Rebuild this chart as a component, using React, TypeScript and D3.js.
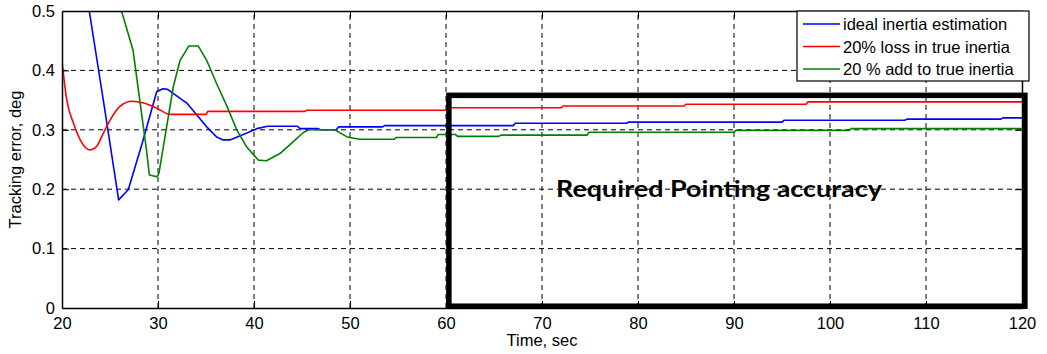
import { useEffect, useMemo, useRef } from 'react';
import * as d3 from 'd3';

// time (sec) / tracking error (deg)
const idealTime = [
    22.5, 22.84, 24.4, 25.9, 26.9, 28.4, 29.86, 30.5, 31.0, 33.0, 35.07, 36.1, 36.8, 37.5, 39.2,
    39.6, 40.3, 41.4, 44.5, 44.8, 46.7, 46.9, 48.6, 48.8, 53.4, 53.6, 67.0, 67.2, 78.8, 79.0,
    95.0, 95.2, 107.8, 108.0, 117.8, 118.0, 120,
];
const idealError = [
    0.53, 0.5, 0.34, 0.182, 0.199, 0.28, 0.364, 0.369, 0.368, 0.345, 0.305, 0.288, 0.283, 0.283,
    0.294, 0.297, 0.302, 0.306, 0.306, 0.302, 0.302, 0.3, 0.3, 0.305, 0.305, 0.307, 0.307, 0.311,
    0.311, 0.313, 0.313, 0.316, 0.316, 0.318, 0.318, 0.32, 0.32,
];
const lossTime = [
    20, 20.5, 21.2, 21.9, 22.9, 23.6, 24.3, 25, 26, 27.3, 28.5, 29.9, 31.25, 35.0, 35.2, 45.3,
    45.5, 60.0, 60.2, 72.0, 72.2, 84.8, 85.0, 97.5, 97.7, 120,
];
const lossError = [
    0.415, 0.35, 0.311, 0.283, 0.266, 0.272, 0.294, 0.316, 0.339, 0.348, 0.345, 0.336, 0.326,
    0.326, 0.331, 0.331, 0.333, 0.333, 0.337, 0.337, 0.34, 0.34, 0.343, 0.343, 0.347, 0.347,
];
const addTime = [
    26.0, 26.2, 27.4, 28.1, 28.8, 29.1, 29.9, 30.1, 30.9, 31.6, 32.3, 33.2, 34.2, 35.07, 36.1,
    37.2, 38.2, 39.2, 40.45, 41.3, 42.7, 44.1, 45.1, 45.7, 48.4, 49.7, 51.0, 54.6, 54.8, 59.0,
    59.2, 61.0, 61.2, 65.5, 65.7, 74.7, 74.9, 90.0, 90.2, 102.0, 102.2, 120,
];
const addError = [
    0.52, 0.5, 0.434, 0.35, 0.266, 0.224, 0.221, 0.227, 0.305, 0.373, 0.417, 0.441, 0.441, 0.417,
    0.378, 0.339, 0.3, 0.272, 0.249, 0.248, 0.26, 0.28, 0.295, 0.3, 0.3, 0.288, 0.284, 0.284,
    0.287, 0.287, 0.292, 0.292, 0.289, 0.289, 0.291, 0.291, 0.296, 0.296, 0.299, 0.299, 0.302,
    0.302,
];

const seriesNames = [
    'ideal inertia estimation',
    '20% loss in true inertia',
    '20 % add to true inertia',
];
const seriesColours = ['#0000ff', '#ff0000', '#008000'];
// the red trace is smooth, the other two have sharp turning points
const seriesCurves = [d3.curveLinear, d3.curveMonotoneX, d3.curveLinear];

const xTicks = [20, 30, 40, 50, 60, 70, 80, 90, 100, 110, 120];
const yTicks = [0, 0.1, 0.2, 0.3, 0.4, 0.5];

// required pointing accuracy region
const accuracyTime = [60.3, 120.3];
const accuracyBound = [0.003, 0.358];
const accuracyLabel = 'Required Pointing accuracy';

const width = 1047;
const height = 354;
const margin = { top: 11, right: 25, bottom: 46, left: 62 };
const font = '"Liberation Sans", Arial, sans-serif';

export default function App() {
    const xAxisEl = useRef<SVGGElement>(null);
    const yAxisEl = useRef<SVGGElement>(null);
    const topAxisEl = useRef<SVGGElement>(null);
    const rightAxisEl = useRef<SVGGElement>(null);

    const xScale = useMemo(
        () => d3.scaleLinear().domain([20, 120]).range([margin.left, width - margin.right]),
        []
    );
    const yScale = useMemo(
        () => d3.scaleLinear().domain([0, 0.5]).range([height - margin.bottom, margin.top]),
        []
    );

    const series = useMemo(() => {
        const all = [
            [idealTime, idealError],
            [lossTime, lossError],
            [addTime, addError],
        ];
        return all.map(([t, v], i) => {
            const line = d3
                .line<[number, number]>()
                .x((d) => xScale(d[0]))
                .y((d) => yScale(d[1]))
                .curve(seriesCurves[i]);
            return {
                d: line(t.map((x, j) => [x, v[j]] as [number, number])) ?? '',
                colour: seriesColours[i],
                name: seriesNames[i],
            };
        });
    }, [xScale, yScale]);

    useEffect(() => {
        const tidy = (g: d3.Selection<SVGGElement, unknown, null, undefined>) => {
            g.select('.domain').attr('stroke', '#000').attr('stroke-width', 1.5);
            g.selectAll('.tick line').attr('stroke', '#000');
            g.selectAll('.tick text')
                .attr('fill', '#000')
                .style('font-family', font)
                .style('font-size', '16.5px');
        };
        if (xAxisEl.current)
            d3.select(xAxisEl.current)
                .call(d3.axisBottom(xScale).tickValues(xTicks).tickSize(-7).tickSizeOuter(0).tickPadding(9))
                .call(tidy);
        if (yAxisEl.current)
            d3.select(yAxisEl.current)
                .call(
                    d3
                        .axisLeft(yScale)
                        .tickValues(yTicks)
                        .tickSize(-7)
                        .tickSizeOuter(0)
                        .tickPadding(7)
                        .tickFormat((d) => (+d === 0 ? '0' : (+d).toFixed(1)))
                )
                .call(tidy);
        if (topAxisEl.current)
            d3.select(topAxisEl.current)
                .call(d3.axisTop(xScale).tickValues(xTicks).tickSize(-7).tickSizeOuter(0).tickFormat(() => ''))
                .call(tidy);
        if (rightAxisEl.current)
            d3.select(rightAxisEl.current)
                .call(d3.axisRight(yScale).tickValues(yTicks).tickSize(-7).tickSizeOuter(0).tickFormat(() => ''))
                .call(tidy);
    }, [xScale, yScale]);

    const x0 = margin.left;
    const x1 = width - margin.right;
    const y0 = height - margin.bottom;
    const y1 = margin.top;
    const legendX = 797;
    const legendY = 11;

    return (
        <svg
            width={width}
            height={height}
            viewBox={`0 0 ${width} ${height}`}
            style={{ position: 'absolute', left: 0, top: 0, background: '#fff' }}
        >
            <defs>
                <clipPath id="plot-area">
                    <rect x={x0} y={y1} width={x1 - x0} height={y0 - y1} />
                </clipPath>
            </defs>
            <rect x={0} y={0} width={width} height={height} fill="#fff" />

            {/* dashed grid */}
            <g stroke="#000" strokeWidth={1} strokeDasharray="5,4">
                {xTicks.slice(1, -1).map((t) => (
                    <line key={`gx${t}`} x1={xScale(t)} x2={xScale(t)} y1={y0} y2={y1} />
                ))}
                {yTicks.slice(1, -1).map((t) => (
                    <line key={`gy${t}`} x1={x0} x2={x1} y1={yScale(t)} y2={yScale(t)} />
                ))}
            </g>

            <g clipPath="url(#plot-area)" fill="none" strokeWidth={1.6} strokeLinejoin="round">
                {series.map((s) => (
                    <path key={s.name} d={s.d} stroke={s.colour} />
                ))}
            </g>

            <rect
                x={xScale(accuracyTime[0])}
                y={yScale(accuracyBound[1])}
                width={xScale(accuracyTime[1]) - xScale(accuracyTime[0])}
                height={yScale(accuracyBound[0]) - yScale(accuracyBound[1])}
                fill="none"
                stroke="#000"
                strokeWidth={5.5}
            />
            <text
                x={719}
                y={197}
                textAnchor="middle"
                textLength={326}
                lengthAdjust="spacingAndGlyphs"
                style={{ fontFamily: 'Lato, "Open Sans", sans-serif', fontWeight: 700, fontSize: 23 }}
                fill="#000"
            >
                {accuracyLabel}
            </text>

            <g ref={xAxisEl} transform={`translate(0, ${y0})`} />
            <g ref={yAxisEl} transform={`translate(${x0}, 0)`} />
            <g ref={topAxisEl} transform={`translate(0, ${y1})`} />
            <g ref={rightAxisEl} transform={`translate(${x1}, 0)`} />

            <text
                x={(x0 + x1) / 2}
                y={346}
                textAnchor="middle"
                style={{ fontFamily: font, fontSize: 16.5 }}
            >
                Time, sec
            </text>
            <text
                transform={`translate(21, ${(y0 + y1) / 2}) rotate(-90)`}
                textAnchor="middle"
                style={{ fontFamily: font, fontSize: 16.5 }}
            >
                Tracking error, deg
            </text>

            {/* legend */}
            <g transform={`translate(${legendX}, ${legendY})`}>
                <rect width={232} height={70} fill="#fff" stroke="#000" strokeWidth={1.2} />
                {series.map((s, i) => (
                    <g key={s.name} transform={`translate(0, ${13 + i * 22.5})`}>
                        <line x1={6} x2={43} y1={0} y2={0} stroke={s.colour} strokeWidth={1.6} />
                        <text x={46} y={6} style={{ fontFamily: font, fontSize: 16.5 }}>
                            {s.name}
                        </text>
                    </g>
                ))}
            </g>
        </svg>
    );
}
